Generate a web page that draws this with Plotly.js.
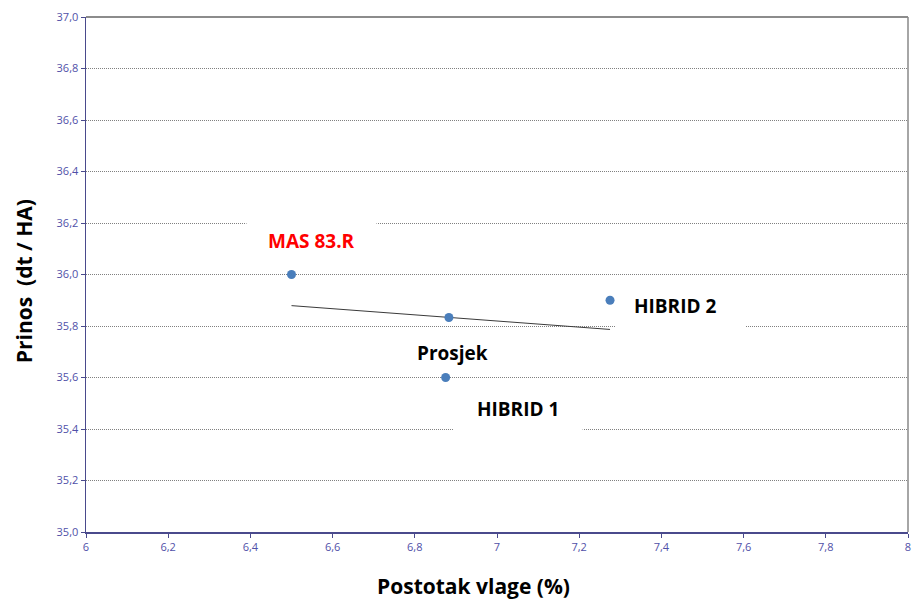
<!DOCTYPE html>
<html>
<head>
<meta charset="utf-8">
<script src="https://cdn.plot.ly/plotly-3.0.1.min.js"></script>
<style>html,body{margin:0;padding:0;background:#fff;}#chart{width:918px;height:600px;}</style>
</head>
<body>
<div id="chart"></div>
<script>
// Data
const names = ["MAS 83.R", "HIBRID 1", "HIBRID 2"];
const moisture = [6.5, 6.875, 7.275];      // Postotak vlage (%)
const yieldDt = [36.0, 35.6, 35.9];         // Prinos (dt / HA)
const avgName = "Prosjek";
const avgMoisture = [6.883];
const avgYield = [35.833];
const labelColors = ["#ff0000", "#000000", "#000000"];
const xTitle = "Postotak vlage (%)";
const yTitle = "Prinos  (dt / HA)";

// Linear trend (least squares) through the three hybrids
const n = moisture.length;
const mx = moisture.reduce((a, b) => a + b, 0) / n;
const my = yieldDt.reduce((a, b) => a + b, 0) / n;
let sxy = 0, sxx = 0;
for (let i = 0; i < n; i++) { sxy += (moisture[i] - mx) * (yieldDt[i] - my); sxx += (moisture[i] - mx) ** 2; }
const slope = sxy / sxx, icpt = my - slope * mx;
const trendX = [Math.min(...moisture), Math.max(...moisture)];
const trendY = trendX.map(x => icpt + slope * x);

const font = "Open Sans, Liberation Sans, sans-serif";
const tickColor = "#5050a8";

const traces = [
  { x: trendX, y: trendY, mode: "lines", line: { color: "#3a3a3a", width: 1 }, hoverinfo: "skip", showlegend: false },
  { x: moisture.concat(avgMoisture), y: yieldDt.concat(avgYield), mode: "markers",
    marker: { color: "#4a7ebb", size: 9 }, showlegend: false }
];

// Label text offsets (px) and white label boxes (px, relative to each point)
const offs = [[20, -34], [72, 31], [65, 6]];
const boxes = [[-45, 85, 12, 60], [8, 137, -55, -7], [6, 135, -30, 18]];
const annotations = names.map((nm, i) => ({
  x: moisture[i], y: yieldDt[i], xref: "x", yref: "y", text: "<b>" + nm + "</b>",
  showarrow: true, arrowcolor: "rgba(0,0,0,0)", ax: offs[i][0], ay: offs[i][1],
  font: { family: font, size: 19, color: labelColors[i] }
}));
annotations.push({
  x: avgMoisture[0], y: avgYield[0], xref: "x", yref: "y", text: "<b>" + avgName + "</b>",
  showarrow: true, arrowcolor: "rgba(0,0,0,0)", ax: 4, ay: 35,
  font: { family: font, size: 19, color: "#000000" }
});
annotations.push({
  x: 0.472, y: -0.105, xref: "paper", yref: "paper", xanchor: "center", yanchor: "middle",
  showarrow: false, text: "<b>" + xTitle + "</b>", font: { family: font, size: 21, color: "#000" }
});
annotations.push({
  x: -0.0754, y: 0.487, xref: "paper", yref: "paper", xanchor: "center", yanchor: "middle",
  showarrow: false, textangle: -90, text: "<b>" + yTitle + "</b>", font: { family: font, size: 21, color: "#000" }
});

const shapes = boxes.map((b, i) => ({
  type: "rect", layer: "between", xref: "x", yref: "y",
  xsizemode: "pixel", ysizemode: "pixel", xanchor: moisture[i], yanchor: yieldDt[i],
  x0: b[0], x1: b[1], y0: b[2], y1: b[3],
  fillcolor: "#ffffff", line: { width: 0 }
}));
shapes.push(
  { type: "line", xref: "paper", yref: "paper", x0: 0, x1: 1, y0: 1, y1: 1, line: { color: "#666", width: 1.5 } },
  { type: "line", xref: "paper", yref: "paper", x0: 1, x1: 1, y0: 0, y1: 1, line: { color: "#888", width: 1.5 } }
);

const layout = {
  width: 918, height: 600,
  margin: { l: 86, r: 10, t: 17, b: 68 },
  paper_bgcolor: "#ffffff", plot_bgcolor: "#ffffff",
  separators: ", ",
  showlegend: false,
  xaxis: {
    range: [6, 8], dtick: 0.2, tick0: 6, showgrid: false, zeroline: false,
    showline: true, linecolor: "#4a4a8c", linewidth: 1.5, mirror: false,
    ticks: "outside", ticklen: 4, tickcolor: "#4a4a8c",
    tickfont: { family: font, size: 11, color: tickColor }
  },
  yaxis: {
    range: [35, 37], dtick: 0.2, tick0: 35, tickformat: ".1f", zeroline: false,
    showgrid: true, gridcolor: "#808080", griddash: "1px,1px", gridwidth: 1,
    showline: true, linecolor: "#4a4a8c", linewidth: 1.5,
    ticks: "outside", ticklen: 4, tickcolor: "#4a4a8c",
    tickfont: { family: font, size: 11, color: tickColor }
  },
  shapes: shapes,
  annotations: annotations
};

Plotly.newPlot("chart", traces, layout, { displayModeBar: false, staticPlot: true });
</script>
</body>
</html>
